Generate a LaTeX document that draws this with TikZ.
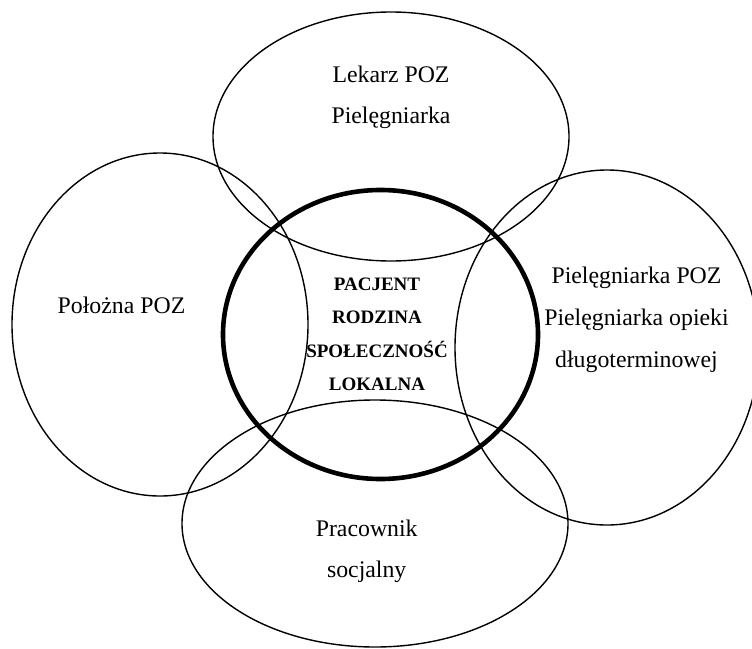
\documentclass[tikz,border=0pt]{standalone}
\usepackage{fontspec}
\setmainfont{Liberation Serif}
\usetikzlibrary{shapes.geometric}
\tikzset{
  ring/.style={draw=black, ellipse, line width=1.4pt, inner sep=0pt},
  core/.style={draw=black, ellipse, line width=4.6pt, inner sep=0pt},
  lbl/.style={anchor=base, inner sep=0pt, font=\fontsize{23.8}{28}\selectfont},
  blbl/.style={anchor=base, inner sep=0pt, font=\fontsize{19}{22}\selectfont\bfseries}
}
\begin{document}
\begin{tikzpicture}[x=1pt,y=-1pt]
\useasboundingbox (0,0) rectangle (752,648);
\clip (0,0) rectangle (752,648);
% ellipses
\node[ring, minimum width=356pt, minimum height=249pt] (top) at (391,136.5) {};
\node[ring, minimum width=296pt, minimum height=343pt] (left) at (160,324.5) {};
\node[ring, minimum width=304pt, minimum height=355pt] (right) at (607,347.5) {};
\node[ring, minimum width=386pt, minimum height=247pt] (bottom) at (375,523.5) {};
\node[core, minimum width=315pt, minimum height=289pt] (center) at (380.5,334.5) {};
% texts
\node[lbl] (t1) at (391,82) {Lekarz POZ};
\node[lbl] (t2) at (391,123) {Pielęgniarka};
\node[lbl] (l1) at (121.5,313) {Położna POZ};
\node[lbl] (r1) at (636.5,283) {Pielęgniarka POZ};
\node[lbl] (r2) at (636.5,325) {Pielęgniarka opieki};
\node[lbl] (r3) at (636.5,367) {długoterminowej};
\node[lbl] (b1) at (366.7,536) {Pracownik};
\node[lbl] (b2) at (366.7,577) {socjalny};
\node[blbl] (c1) at (377,290) {PACJENT};
\node[blbl] (c2) at (377,323) {RODZINA};
\node[blbl] (c3) at (377,357) {SPOŁECZNOŚĆ};
\node[blbl] (c4) at (377,390) {LOKALNA};
\end{tikzpicture}
\end{document}
